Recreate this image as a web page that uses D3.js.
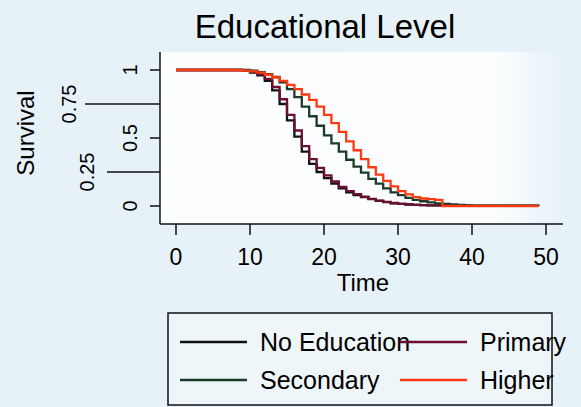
<!DOCTYPE html>
<html>
<head>
<meta charset="utf-8">
<script src="https://cdn.jsdelivr.net/npm/d3@7"></script>
<style>
  body { margin: 0; background: #e6f2f8; }
  svg { display: block; font-family: "Liberation Sans", Arial, sans-serif; }
</style>
</head>
<body>
<svg id="chart" width="581" height="407"></svg>
<script>
// survival estimates at each time point (step after)
const times = [0, 8, 9, 10, 11, 12, 13, 14, 15, 16, 17, 18, 19, 20, 21, 22, 23, 24, 25,
  26, 27, 28, 29, 30, 31, 32, 33, 34, 35, 36, 37, 38, 39, 40, 49];

const noEducation = [1, 1, 0.995, 0.98, 0.96, 0.92, 0.85, 0.75, 0.63, 0.51, 0.40, 0.31, 0.25,
  0.205, 0.165, 0.13, 0.10, 0.08, 0.065, 0.05, 0.038, 0.028, 0.02, 0.015, 0.011, 0.008,
  0.006, 0.005, 0.004, 0.003, 0.003, 0.002, 0.002, 0.001, 0.001];

const primary = [1, 1, 0.997, 0.987, 0.968, 0.935, 0.875, 0.785, 0.67, 0.555, 0.44, 0.345,
  0.28, 0.225, 0.18, 0.14, 0.11, 0.087, 0.068, 0.053, 0.04, 0.03, 0.022, 0.016, 0.012,
  0.009, 0.007, 0.005, 0.004, 0.003, 0.003, 0.002, 0.002, 0.001, 0.001];

const secondary = [1, 1, 1, 0.995, 0.985, 0.97, 0.95, 0.91, 0.86, 0.80, 0.73, 0.66, 0.59,
  0.52, 0.46, 0.40, 0.34, 0.29, 0.245, 0.20, 0.165, 0.13, 0.10, 0.08, 0.06, 0.045, 0.035,
  0.027, 0.02, 0.015, 0.011, 0.008, 0.005, 0.003, 0.002];

const higher = [1, 0.998, 0.995, 0.99, 0.98, 0.965, 0.945, 0.92, 0.89, 0.86, 0.82, 0.78,
  0.73, 0.67, 0.61, 0.545, 0.475, 0.41, 0.345, 0.285, 0.23, 0.185, 0.145, 0.11, 0.085,
  0.065, 0.055, 0.05, 0.045, 0, 0, 0, 0, 0, 0];

const seriesNames = ["No Education", "Primary", "Secondary", "Higher"];
const xTicks = [0, 10, 20, 30, 40, 50];
const yTicks = [0, 0.25, 0.5, 0.75, 1];

const colors = ["#111111", "#6a1030", "#1b3b29", "#ff3a12"];

const svg = d3.select("#chart");

const x = d3.scaleLinear().domain([0, 50]).range([176, 546]);
const y = d3.scaleLinear().domain([0, 1]).range([206, 70]);

// plot region, fading into the background on the right
const grad = svg.append("defs").append("linearGradient")
  .attr("id", "plotfill").attr("x1", 0).attr("x2", 1).attr("y1", 0).attr("y2", 0);
grad.append("stop").attr("offset", "0%").attr("stop-color", "#fdfeff");
grad.append("stop").attr("offset", "85%").attr("stop-color", "#fbfdfe");
grad.append("stop").attr("offset", "100%").attr("stop-color", "#e6f2f8");

svg.append("rect")
  .attr("x", 160).attr("y", 52)
  .attr("width", 400).attr("height", 172)
  .attr("fill", "url(#plotfill)");

// title
svg.append("text")
  .attr("x", 325).attr("y", 38)
  .attr("text-anchor", "middle")
  .attr("font-size", 33)
  .text("Educational Level");

// axes lines
svg.append("line")
  .attr("x1", 160).attr("x2", 160).attr("y1", 52).attr("y2", 224)
  .attr("stroke", "#111").attr("stroke-width", 1.5);
svg.append("line")
  .attr("x1", 160).attr("x2", 563).attr("y1", 224).attr("y2", 224)
  .attr("stroke", "#111").attr("stroke-width", 1.5);

// x ticks
const xg = svg.append("g");
xg.selectAll("line").data(xTicks).join("line")
  .attr("x1", d => x(d)).attr("x2", d => x(d))
  .attr("y1", 224).attr("y2", 235)
  .attr("stroke", "#111").attr("stroke-width", 1.5);
xg.selectAll("text").data(xTicks).join("text")
  .attr("x", d => x(d)).attr("y", 265)
  .attr("text-anchor", "middle")
  .attr("font-size", 23)
  .text(d => d);

// y ticks, alternating labels pushed outward like the original
const altTick = { 0.75: { len: 75, lab: 76 }, 0.25: { len: 53, lab: 94 } };
const yg = svg.append("g");
yg.selectAll("line").data(yTicks).join("line")
  .attr("x1", d => altTick[d] ? 160 - altTick[d].len : 150)
  .attr("x2", 160)
  .attr("y1", d => y(d)).attr("y2", d => y(d))
  .attr("stroke", "#111").attr("stroke-width", 1.5);
yg.selectAll("text").data(yTicks).join("text")
  .attr("transform", d => `translate(${altTick[d] ? altTick[d].lab : 137},${y(d)}) rotate(-90)`)
  .attr("text-anchor", "middle")
  .attr("font-size", 20)
  .text(d => d);

// axis titles
svg.append("text")
  .attr("transform", "translate(34,133) rotate(-90)")
  .attr("text-anchor", "middle")
  .attr("font-size", 24)
  .text("Survival");
svg.append("text")
  .attr("x", 363).attr("y", 291)
  .attr("text-anchor", "middle")
  .attr("font-size", 24)
  .text("Time");

// survival curves
const line = d3.line()
  .x(d => x(d[0]))
  .y(d => y(d[1]))
  .curve(d3.curveStepAfter);

const allSeries = [noEducation, primary, secondary, higher];
svg.append("g").selectAll("path")
  .data(allSeries)
  .join("path")
  .attr("d", s => line(times.map((t, i) => [t, s[i]])))
  .attr("fill", "none")
  .attr("stroke", (s, i) => colors[i])
  .attr("stroke-width", 2.3);

// legend
svg.append("rect")
  .attr("x", 168).attr("y", 313)
  .attr("width", 384).attr("height", 92)
  .attr("fill", "#eef6fa")
  .attr("stroke", "#111").attr("stroke-width", 1.5);

const legendPos = [
  { lx: 180, ty: 342 }, { lx: 400, ty: 342 },
  { lx: 180, ty: 380 }, { lx: 400, ty: 380 }
];
const lg = svg.append("g");
seriesNames.forEach((name, i) => {
  const p = legendPos[i];
  lg.append("line")
    .attr("x1", p.lx).attr("x2", p.lx + 67)
    .attr("y1", p.ty).attr("y2", p.ty)
    .attr("stroke", colors[i]).attr("stroke-width", 2.3);
  lg.append("text")
    .attr("x", p.lx + 80).attr("y", p.ty + 9)
    .attr("font-size", 25)
    .text(name);
});
</script>
</body>
</html>
